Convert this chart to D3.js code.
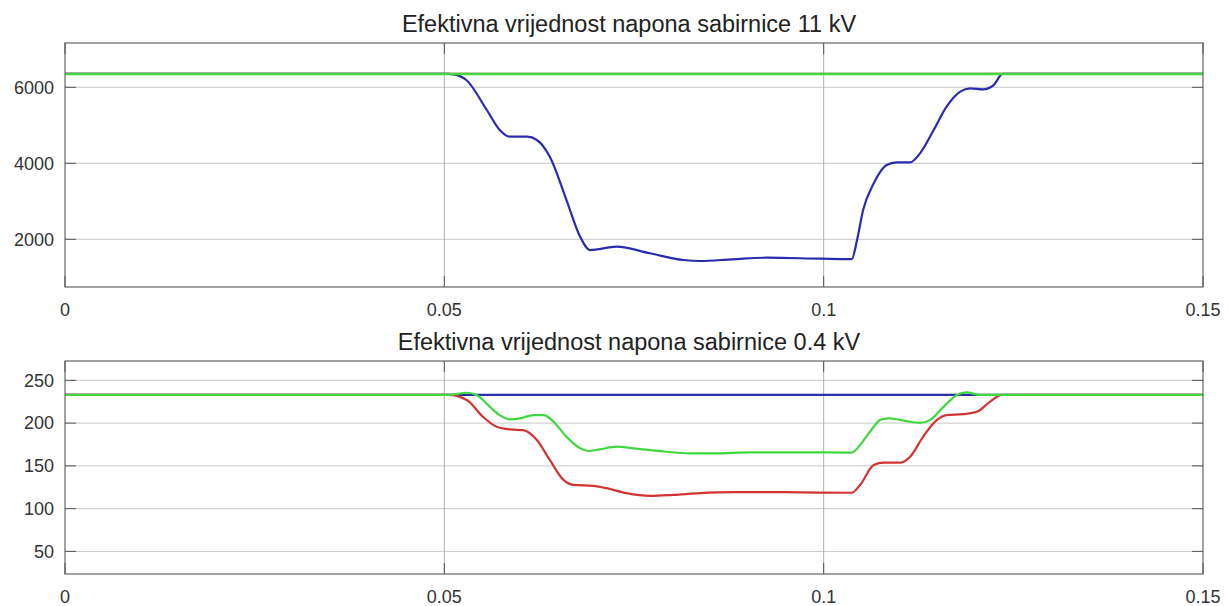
<!DOCTYPE html>
<html>
<head>
<meta charset="utf-8">
<script src="https://cdn.jsdelivr.net/npm/d3@7"></script>
<style>
  body { margin: 0; background: #fff; }
  text { font-family: "Liberation Sans", Arial, sans-serif; }
</style>
</head>
<body>
<svg id="chart"></svg>
<script>
// x ticks shared by both panels
const xTicks = [0, 0.05, 0.1, 0.15];
const xTickLabels = ["0", "0.05", "0.1", "0.15"];

// --- 11 kV bus (phase voltages, V rms) ---
const hvTitle = "Efektivna vrijednost napona sabirnice 11 kV";
const hvTicks = [2000, 4000, 6000];
const hvBlueT = [0, 0.0505, 0.0512, 0.0529, 0.0556, 0.0573, 0.0586, 0.0609, 0.0622, 0.0639, 0.0661, 0.0679, 0.0692, 0.0727, 0.0771, 0.0815, 0.0837, 0.0880, 0.0925, 0.0995, 0.1037, 0.1044, 0.1052, 0.1066, 0.1083, 0.1096, 0.1114, 0.1127, 0.1145, 0.1162, 0.1180, 0.1193, 0.1210, 0.1224, 0.1236, 0.15];
const hvBlueV = [6351, 6351, 6340, 6192, 5403, 4876, 4700, 4700, 4613, 4174, 3034, 2068, 1718, 1805, 1632, 1455, 1429, 1474, 1516, 1490, 1478, 1982, 2771, 3474, 3955, 4026, 4026, 4263, 4876, 5490, 5885, 5973, 5947, 6060, 6351, 6351];
const hvRedT = [0, 0.15];
const hvRedV = [6351, 6351];
const hvGreenT = [0, 0.15];
const hvGreenV = [6351, 6351];

// --- 0.4 kV bus ---
const lvTitle = "Efektivna vrijednost napona sabirnice 0.4 kV";
const lvTicks = [50, 100, 150, 200, 250];
const lvBlueT = [0, 0.15];
const lvBlueV = [233, 233];
const lvRedT = [0, 0.0505, 0.0530, 0.0551, 0.0569, 0.0587, 0.0604, 0.0622, 0.0639, 0.0657, 0.0670, 0.0696, 0.0714, 0.0740, 0.0771, 0.0802, 0.0837, 0.0881, 0.0947, 0.0995, 0.1037, 0.1048, 0.1066, 0.1079, 0.1101, 0.1114, 0.1131, 0.1149, 0.1162, 0.1184, 0.1202, 0.1219, 0.1235, 0.15];
const lvRedV = [233, 233, 226.8, 207.3, 195.7, 192.6, 191.8, 180.2, 156.9, 133.6, 127.7, 126.6, 123.9, 118.1, 114.9, 116.1, 118.1, 119.2, 119.2, 118.8, 118.6, 127.7, 151, 153.7, 153.7, 160.7, 184, 203.5, 209.3, 210.5, 213.2, 224.8, 233, 233];
const lvGreenT = [0, 0.0505, 0.0530, 0.0543, 0.0560, 0.0573, 0.0587, 0.0600, 0.0617, 0.0631, 0.0644, 0.0661, 0.0679, 0.0690, 0.0705, 0.0727, 0.0749, 0.0793, 0.0824, 0.0859, 0.0903, 0.0969, 0.1037, 0.1048, 0.1061, 0.1076, 0.1087, 0.1109, 0.1127, 0.1140, 0.1158, 0.1175, 0.1188, 0.1206, 0.15];
const lvGreenV = [233, 233, 235.5, 232.6, 219, 209.3, 204.3, 205.5, 209.3, 209.3, 201.5, 184, 170.5, 167.4, 169.3, 172.4, 170.5, 166.5, 164.7, 164.7, 165.8, 165.8, 165.6, 174.4, 189.9, 204.3, 205.5, 202.3, 200.3, 203.5, 219, 232.6, 236, 233, 233];

const width = 1230, height = 606;
const svg = d3.select("#chart").attr("width", width).attr("height", height);

const x = d3.scaleLinear().domain([0, 0.15]).range([65, 1203]);

const colors = { blue: "#2b2bb0", red: "#d23434", green: "#3fd93f" };

function panel(opts) {
  const y = d3.scaleLinear().domain(opts.yDomain).range([opts.bottom, opts.top]);
  const g = svg.append("g");

  // grid
  g.selectAll(".hgrid").data(opts.yTicks).enter().append("line")
    .attr("x1", x(0)).attr("x2", x(0.15))
    .attr("y1", d => y(d)).attr("y2", d => y(d))
    .attr("stroke", "#c8c8c8").attr("stroke-width", 1);
  g.selectAll(".vgrid").data(xTicks.slice(1, -1)).enter().append("line")
    .attr("x1", d => x(d)).attr("x2", d => x(d))
    .attr("y1", opts.top).attr("y2", opts.bottom)
    .attr("stroke", "#b0b0b0").attr("stroke-width", 1);

  // series
  const line = d3.line().x(d => x(d[0])).y(d => y(d[1])).curve(d3.curveMonotoneX);
  opts.series.forEach(s => {
    g.append("path")
      .datum(s.t.map((t, i) => [t, s.v[i]]))
      .attr("d", line)
      .attr("fill", "none")
      .attr("stroke", s.color)
      .attr("stroke-width", s.w || 2.2)
      .attr("stroke-linejoin", "round");
  });

  // box
  g.append("rect")
    .attr("x", x(0)).attr("y", opts.top)
    .attr("width", x(0.15) - x(0)).attr("height", opts.bottom - opts.top)
    .attr("fill", "none").attr("stroke", "#666").attr("stroke-width", 1.2);

  // inward ticks
  const tl = 11;
  opts.yTicks.forEach(d => {
    g.append("line").attr("x1", x(0)).attr("x2", x(0) + tl).attr("y1", y(d)).attr("y2", y(d)).attr("stroke", "#555");
    g.append("line").attr("x1", x(0.15)).attr("x2", x(0.15) - tl).attr("y1", y(d)).attr("y2", y(d)).attr("stroke", "#555");
  });
  xTicks.forEach(d => {
    g.append("line").attr("x1", x(d)).attr("x2", x(d)).attr("y1", opts.bottom).attr("y2", opts.bottom - tl).attr("stroke", "#555");
    g.append("line").attr("x1", x(d)).attr("x2", x(d)).attr("y1", opts.top).attr("y2", opts.top + tl).attr("stroke", "#555");
  });

  // tick labels
  g.selectAll(".ylab").data(opts.yTicks).enter().append("text")
    .attr("x", 54).attr("y", d => y(d)).attr("dy", "0.35em")
    .attr("text-anchor", "end").attr("font-size", 18).attr("fill", "#333")
    .text(d => d);
  g.selectAll(".xlab").data(xTicks).enter().append("text")
    .attr("x", d => x(d)).attr("y", opts.bottom + 29)
    .attr("text-anchor", "middle").attr("font-size", 18).attr("fill", "#333")
    .text((d, i) => xTickLabels[i]);

  // title
  g.append("text")
    .attr("x", 629).attr("y", opts.top - 11)
    .attr("text-anchor", "middle").attr("font-size", 23.5).attr("fill", "#222")
    .text(opts.title);
}

panel({
  title: hvTitle, top: 43, bottom: 287, yDomain: [745, 7166], yTicks: hvTicks,
  series: [
    { t: hvRedT, v: hvRedV, color: colors.red },
    { t: hvBlueT, v: hvBlueV, color: colors.blue },
    { t: hvGreenT, v: hvGreenV, color: colors.green, w: 2.6 }
  ]
});

panel({
  title: lvTitle, top: 361, bottom: 574, yDomain: [23.6, 272.6], yTicks: lvTicks,
  series: [
    { t: lvBlueT, v: lvBlueV, color: colors.blue },
    { t: lvRedT, v: lvRedV, color: colors.red },
    { t: lvGreenT, v: lvGreenV, color: colors.green }
  ]
});
</script>
</body>
</html>
